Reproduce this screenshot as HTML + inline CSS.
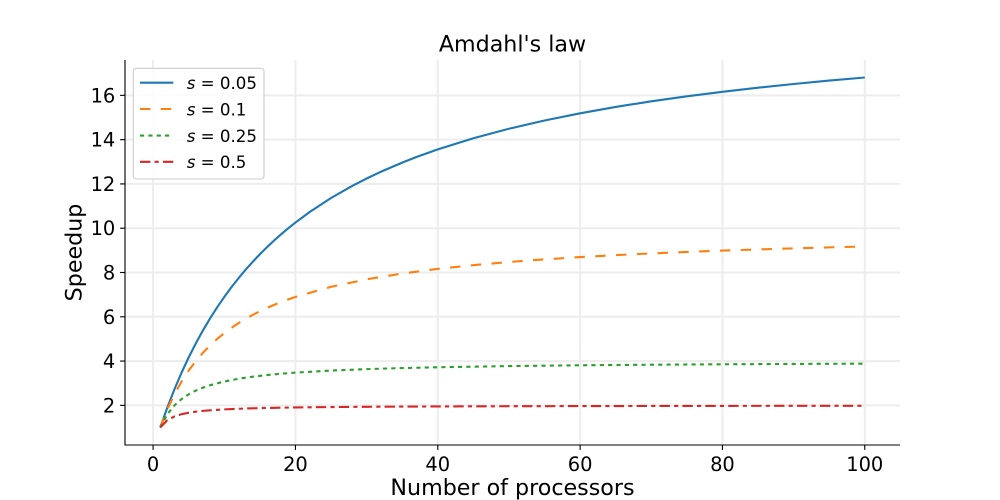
<!DOCTYPE html>
<html>
<head>
<meta charset="utf-8">
<style>
  html, body { margin: 0; padding: 0; background: #ffffff; }
  svg { display: block; }
  text { font-family: "DejaVu Sans", "Liberation Sans", sans-serif; fill: #000; }
</style>
</head>
<body>
<svg width="1000" height="500" viewBox="0 0 1000 500" xmlns="http://www.w3.org/2000/svg">
  <rect x="0" y="0" width="1000" height="500" fill="#ffffff"/>

  <!-- grid -->
  <g stroke="#ededed" stroke-width="2" fill="none">
    <line x1="125" y1="405.36" x2="900" y2="405.36"/>
    <line x1="125" y1="361.07" x2="900" y2="361.07"/>
    <line x1="125" y1="316.79" x2="900" y2="316.79"/>
    <line x1="125" y1="272.50" x2="900" y2="272.50"/>
    <line x1="125" y1="228.22" x2="900" y2="228.22"/>
    <line x1="125" y1="183.93" x2="900" y2="183.93"/>
    <line x1="125" y1="139.65" x2="900" y2="139.65"/>
    <line x1="125" y1="95.36" x2="900" y2="95.36"/>
    <line x1="153.11" y1="60" x2="153.11" y2="445"/>
    <line x1="295.44" y1="60" x2="295.44" y2="445"/>
    <line x1="437.78" y1="60" x2="437.78" y2="445"/>
    <line x1="580.11" y1="60" x2="580.11" y2="445"/>
    <line x1="722.44" y1="60" x2="722.44" y2="445"/>
    <line x1="864.77" y1="60" x2="864.77" y2="445"/>
  </g>

  <!-- series -->
  <g fill="none" stroke-width="2.1" stroke-linejoin="round">
    <polyline stroke="#1f77b4" stroke-linecap="butt" points="160.23,427.50 167.34,407.47 174.46,389.25 181.58,372.62 188.69,357.38 195.81,343.36 202.93,330.41 210.04,318.43 217.16,307.30 224.28,296.93 231.39,287.26 238.51,278.22 245.63,269.73 252.74,261.77 259.86,254.27 266.98,247.19 274.09,240.52 281.21,234.20 288.33,228.21 295.44,222.54 309.68,212.01 331.03,198.02 352.38,185.81 366.61,178.51 380.84,171.77 402.19,162.61 416.42,157.04 437.78,149.40 473.36,138.26 508.94,128.73 544.52,120.50 580.11,113.30 615.69,106.96 651.27,101.33 686.86,96.30 722.44,91.78 758.03,87.69 793.61,83.99 829.19,80.60 864.77,77.50"/>
    <polyline stroke="#ff7f0e" stroke-dasharray="10.4 10.4" points="160.23,427.50 167.34,409.38 174.46,394.28 181.58,381.51 188.69,370.56 195.81,361.07 202.93,352.77 210.04,345.44 217.16,338.93 224.28,333.10 231.39,327.86 238.51,323.11 245.63,318.80 252.74,314.86 259.86,311.25 266.98,307.93 274.09,304.86 281.21,302.02 288.33,299.39 295.44,296.93 331.03,286.83 366.61,279.31 402.19,273.51 437.78,268.88 473.36,265.12 508.94,261.99 544.52,259.35 580.11,257.10 615.69,255.14 651.27,253.44 686.86,251.94 722.44,250.61 758.03,249.41 793.61,248.35 829.19,247.38 864.77,246.50"/>
    <polyline stroke="#2ca02c" stroke-dasharray="4.17 4.17" points="160.23,427.50 167.34,414.21 174.46,405.36 181.58,399.03 188.69,394.28 195.81,390.59 202.93,387.64 210.04,385.23 224.28,381.51 238.51,378.78 252.74,376.70 266.98,375.06 281.21,373.72 295.44,372.62 331.03,370.56 366.61,369.12 402.19,368.06 437.78,367.25 508.94,366.08 580.11,365.29 651.27,364.71 722.44,364.27 793.61,363.93 864.77,363.65"/>
    <polyline stroke="#d62728" stroke-dasharray="10.4 4.17 4.17 4.17" points="160.23,427.50 167.34,420.12 174.46,416.43 181.58,414.21 188.69,412.74 195.81,411.68 202.93,410.89 210.04,410.28 224.28,409.38 238.51,408.76 252.74,408.31 266.98,407.96 281.21,407.69 295.44,407.47 331.03,407.06 366.61,406.78 402.19,406.59 437.78,406.44 508.94,406.22 580.11,406.08 651.27,405.98 722.44,405.90 793.61,405.84 864.77,405.79"/>
  </g>

  <!-- spines -->
  <g stroke="#000" stroke-width="1.11" fill="none">
    <line x1="125" y1="60" x2="125" y2="445.5"/>
    <line x1="124.5" y1="445" x2="900" y2="445"/>
    <line x1="120.1" y1="405.36" x2="125" y2="405.36"/>
    <line x1="120.1" y1="361.07" x2="125" y2="361.07"/>
    <line x1="120.1" y1="316.79" x2="125" y2="316.79"/>
    <line x1="120.1" y1="272.50" x2="125" y2="272.50"/>
    <line x1="120.1" y1="228.22" x2="125" y2="228.22"/>
    <line x1="120.1" y1="183.93" x2="125" y2="183.93"/>
    <line x1="120.1" y1="139.65" x2="125" y2="139.65"/>
    <line x1="120.1" y1="95.36" x2="125" y2="95.36"/>
    <line x1="153.11" y1="445" x2="153.11" y2="449.9"/>
    <line x1="295.44" y1="445" x2="295.44" y2="449.9"/>
    <line x1="437.78" y1="445" x2="437.78" y2="449.9"/>
    <line x1="580.11" y1="445" x2="580.11" y2="449.9"/>
    <line x1="722.44" y1="445" x2="722.44" y2="449.9"/>
    <line x1="864.77" y1="445" x2="864.77" y2="449.9"/>
  </g>

  <!-- y tick labels -->
  <g font-size="19.44" text-anchor="end">
    <text x="115.3" y="412.4">2</text>
    <text x="115.3" y="368.1">4</text>
    <text x="115.3" y="323.8">6</text>
    <text x="115.3" y="279.5">8</text>
    <text x="115.3" y="235.2">10</text>
    <text x="115.3" y="190.9">12</text>
    <text x="115.3" y="146.7">14</text>
    <text x="115.3" y="102.4">16</text>
  </g>

  <!-- x tick labels -->
  <g font-size="19.44" text-anchor="middle">
    <text x="153.11" y="471">0</text>
    <text x="295.44" y="471">20</text>
    <text x="437.78" y="471">40</text>
    <text x="580.11" y="471">60</text>
    <text x="722.44" y="471">80</text>
    <text x="864.77" y="471">100</text>
  </g>

  <!-- axis labels and title -->
  <text x="512.5" y="51.5" font-size="22.2" text-anchor="middle">Amdahl's law</text>
  <text x="512.5" y="495" font-size="22.2" text-anchor="middle">Number of processors</text>
  <text transform="translate(81.5,252.5) rotate(-90)" font-size="22.2" text-anchor="middle">Speedup</text>

  <!-- legend -->
  <rect x="133.3" y="68.3" width="130.7" height="110.7" rx="3" ry="3" fill="#ffffff" fill-opacity="0.8" stroke="#cccccc" stroke-width="1.1"/>
  <g fill="none" stroke-width="2.1">
    <line x1="140" y1="82.7" x2="173.3" y2="82.7" stroke="#1f77b4"/>
    <line x1="140" y1="109" x2="173.3" y2="109" stroke="#ff7f0e" stroke-dasharray="10.4 10.4"/>
    <line x1="140" y1="135.6" x2="173.3" y2="135.6" stroke="#2ca02c" stroke-dasharray="4.17 4.17"/>
    <line x1="140" y1="161.8" x2="173.3" y2="161.8" stroke="#d62728" stroke-dasharray="10.4 4.17 4.17 4.17"/>
  </g>
  <g font-size="16.67">
    <text x="186.7" y="89"><tspan font-style="italic">s</tspan> = 0.05</text>
    <text x="186.7" y="115.3"><tspan font-style="italic">s</tspan> = 0.1</text>
    <text x="186.7" y="141.9"><tspan font-style="italic">s</tspan> = 0.25</text>
    <text x="186.7" y="168.1"><tspan font-style="italic">s</tspan> = 0.5</text>
  </g>
</svg>
</body>
</html>
